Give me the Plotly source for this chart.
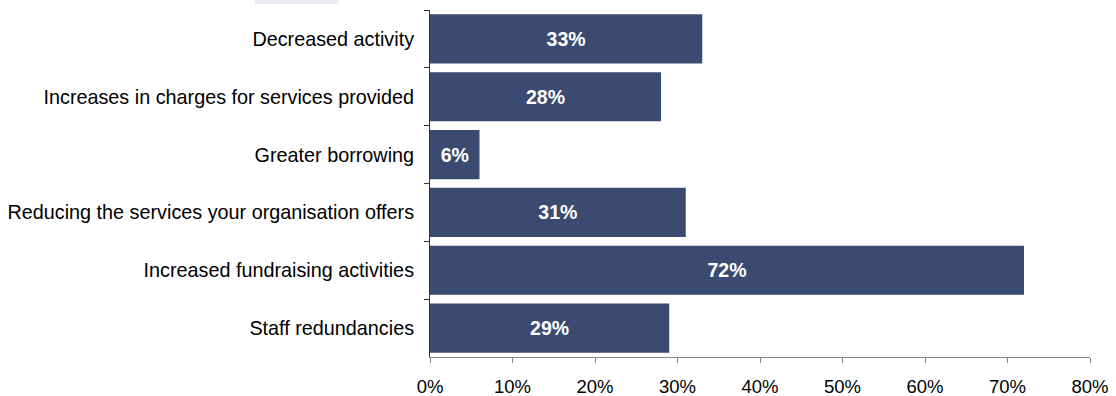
import plotly.graph_objects as go

# Survey responses: actions taken by organisations (share of respondents)
categories = [
    "Decreased activity",
    "Increases in charges for services provided",
    "Greater borrowing",
    "Reducing the services your organisation offers",
    "Increased fundraising activities",
    "Staff redundancies",
]
shares = [33, 28, 6, 31, 72, 29]
x_ticks = [0, 10, 20, 30, 40, 50, 60, 70, 80]
x_tick_labels = [f"{v}%" for v in x_ticks]

BAR_COLOR = "#3B4A71"
X_AXIS_COLOR = "#868686"
Y_AXIS_COLOR = "#333333"
FONT = "Liberation Sans, Arial, sans-serif"

fig = go.Figure(
    go.Bar(
        x=shares,
        y=categories,
        orientation="h",
        marker=dict(color=BAR_COLOR, line=dict(width=0)),
        text=[f"{v}%" for v in shares],
        textposition="inside",
        insidetextanchor="middle",
        textangle=0,
        textfont=dict(family=FONT, size=19.5, color="white", weight="bold"),
        hoverinfo="skip",
    )
)

fig.update_layout(
    width=1116,
    height=396,
    margin=dict(l=430, r=26, t=10, b=39),
    paper_bgcolor="white",
    plot_bgcolor="white",
    showlegend=False,
    bargap=0.15,
    font=dict(family=FONT, size=18, color="black"),
    shapes=[
        dict(
            type="rect", xref="paper", yref="paper",
            x0=-0.265, x1=-0.139, y0=1.017, y1=1.03,
            fillcolor="#E9EDF1", line=dict(width=0), layer="above",
        )
    ],
)

fig.update_xaxes(
    range=[0, 80],
    tickvals=x_ticks,
    ticktext=x_tick_labels,
    automargin=False,
    showgrid=False,
    zeroline=False,
    showline=True,
    linecolor=X_AXIS_COLOR,
    linewidth=1,
    ticks="outside",
    ticklen=5,
    tickcolor=X_AXIS_COLOR,
    ticklabelstandoff=8,
    tickfont=dict(family=FONT, size=18.5, color="black"),
    fixedrange=True,
)

fig.update_yaxes(
    categoryorder="array",
    categoryarray=categories,
    autorange="reversed",
    automargin=False,
    showgrid=False,
    zeroline=False,
    showline=True,
    linecolor=Y_AXIS_COLOR,
    linewidth=1,
    ticks="outside",
    tickson="boundaries",
    ticklen=5,
    tickcolor=Y_AXIS_COLOR,
    ticklabelstandoff=11,
    tickfont=dict(family=FONT, size=19.8, color="black"),
    fixedrange=True,
)

fig.write_html("out.html", config={"displayModeBar": False})
